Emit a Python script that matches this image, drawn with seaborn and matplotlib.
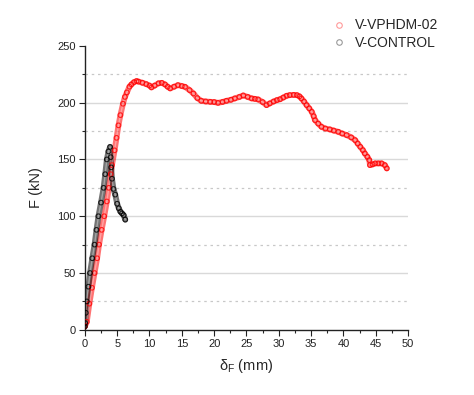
import numpy as np
import pandas as pd
import seaborn as sns
import matplotlib
matplotlib.use('Agg')
import matplotlib.pyplot as plt
from matplotlib.ticker import MultipleLocator
from matplotlib.lines import Line2D

# V-VPHDM-02 curve (displacement mm, force kN)
vphdm_d = [0.0, 0.3, 0.7, 1.1, 1.5, 1.9, 2.2, 2.6, 3.0, 3.4, 3.7, 4.0, 4.2, 4.6, 4.9,
           5.2, 5.5, 5.9, 6.2, 6.5, 6.9, 7.2, 7.6, 8.0, 8.3, 8.9, 9.5, 10.0, 10.3,
           10.8, 11.4, 11.9, 12.4, 12.8, 13.2, 13.8, 14.4, 15.0, 15.5, 16.2, 16.8,
           17.4, 18.0, 18.7, 19.4, 20.0, 20.6, 21.3, 21.9, 22.6, 23.2, 23.9, 24.5,
           25.2, 25.8, 26.3, 26.8, 27.5, 28.1, 28.6, 29.2, 29.7, 30.2, 30.7, 31.2,
           31.7, 32.3, 32.8, 33.2, 33.5, 33.9, 34.3, 34.7, 35.1, 35.4, 35.6, 36.1,
           36.6, 37.2, 37.9, 38.5, 39.2, 39.8, 40.5, 41.2, 41.8, 42.2, 42.6, 43.0,
           43.3, 43.7, 44.0, 44.1, 44.5, 44.9, 45.4, 45.9, 46.4, 46.7]
vphdm_f = [3, 7, 23, 37, 50, 63, 75, 88, 100, 113, 125, 137, 145, 158, 169,
           180, 189, 199, 205, 209, 214, 216, 218, 219, 218.5, 217.5, 216.3, 215, 213.4,
           215, 217, 217.4, 216, 214, 212.5, 214, 215.4, 214.6, 213.9, 211, 208,
           204, 201.6, 201, 200.7, 200.5, 199.8, 200.6, 201.6, 202.5, 203.7, 205, 206.3,
           205, 203.7, 203.3, 202.8, 200.5, 197.8, 199.3, 201, 202.2, 203, 204.5, 206,
           206.6, 206.8, 206.6, 205.5, 203.7, 201, 197.8, 195, 191.9, 188, 184.6, 181.5,
           178.7, 177.2, 176.4, 175.4, 174.3, 172.8, 171.4, 169.4, 167, 164, 161.1, 158.2,
           155.3, 152.3, 149.4, 145, 145.6, 146.5, 146.5, 146.5, 145, 142.1]

# V-CONTROL curve
control_d = [0.0, 0.05, 0.15, 0.3, 0.55, 0.8, 1.15, 1.5, 1.8, 2.1, 2.5, 2.9, 3.15,
             3.4, 3.65, 3.9, 4.0, 4.07, 4.2, 4.43, 4.7, 5.0, 5.25, 5.5, 5.75, 6.0, 6.25]
control_f = [3, 6, 15, 25, 38, 50, 63, 75, 88, 100, 112, 125, 137,
             150, 157, 161, 152, 143, 133, 124, 119, 111, 107, 104, 102.5, 101, 97]

series = ['V-VPHDM-02', 'V-CONTROL']
colors = ['#ff0000', '#000000']

df = pd.concat([
    pd.DataFrame({'d': vphdm_d, 'F': vphdm_f, 'specimen': series[0]}),
    pd.DataFrame({'d': control_d, 'F': control_f, 'specimen': series[1]}),
])

sns.set_style('ticks')
plt.rcParams['font.family'] = ['Liberation Sans', 'DejaVu Sans']

fig = plt.figure(figsize=(4.74, 3.95), dpi=100)
ax = fig.add_axes([0.179, 0.165, 0.682, 0.719])

# grid: solid at majors, dotted at minors
for v in range(50, 250, 50):
    ax.axhline(v, color='#d9d9d9', lw=1.0, zorder=0)
for v in range(25, 250, 50):
    ax.axhline(v, color='#c8c8c8', lw=0.9, ls=(0, (2, 3)), zorder=0)

for name, c in zip(series, colors):
    sub = df[df['specimen'] == name]
    sns.lineplot(data=sub, x='d', y='F', sort=False, estimator=None, color=c,
                 lw=4.2, alpha=0.55, ax=ax, legend=False, zorder=2)
    sns.lineplot(data=sub, x='d', y='F', sort=False, estimator=None, color='white',
                 lw=1.0, alpha=0.35, ax=ax, legend=False, zorder=2.5)
    sns.scatterplot(data=sub, x='d', y='F', marker='o', s=11, facecolors='none',
                    edgecolor=c, linewidth=0.8, alpha=0.8, ax=ax, legend=False, zorder=3)

ax.set_xlim(0, 50)
ax.set_ylim(0, 250)
ax.xaxis.set_major_locator(MultipleLocator(5))
ax.xaxis.set_minor_locator(MultipleLocator(2.5))
ax.yaxis.set_major_locator(MultipleLocator(50))
ax.yaxis.set_minor_locator(MultipleLocator(25))
ax.tick_params(which='major', length=4.5, width=0.8, labelsize=8, pad=2, colors='#222222')
ax.tick_params(which='minor', length=2.5, width=0.8)
sns.despine(ax=ax)
for s in ['left', 'bottom']:
    ax.spines[s].set_linewidth(1.0)
    ax.spines[s].set_color('#222222')

ax.set_xlabel(r'$\mathregular{\delta_F}$ (mm)', fontsize=10.5, labelpad=6)
ax.set_ylabel('F (kN)', fontsize=10.5, labelpad=10)

handles = [Line2D([], [], ls='none', marker='o', markersize=4, markerfacecolor='none',
                  markeredgecolor=c, markeredgewidth=0.8, alpha=0.4) for c in colors]
fig.legend(handles, series, loc='upper left', bbox_to_anchor=(0.675, 0.985),
           frameon=False, fontsize=10, handletextpad=0.6, labelspacing=0.25,
           handlelength=1.0)

plt.savefig('out.png', dpi=100)
plt.close()
